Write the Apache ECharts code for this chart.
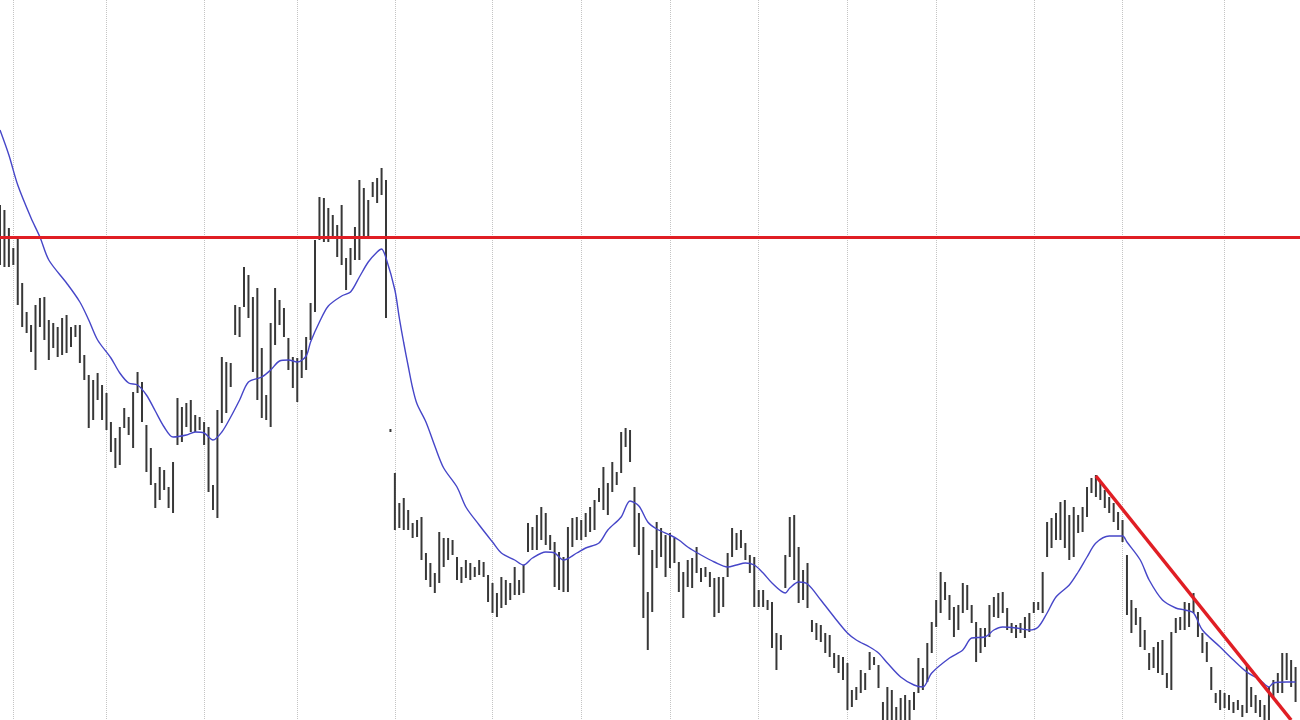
<!DOCTYPE html>
<html>
<head>
<meta charset="utf-8">
<title>Daily bars with moving average</title>
<script src="https://cdn.jsdelivr.net/npm/echarts@6.0.0/dist/echarts.min.js"></script>
<style>
  html, body { margin: 0; padding: 0; background: #fff; }
  #chart { width: 1300px; height: 720px; }
</style>
</head>
<body>
<div id="chart"></div>
<script>
// daily highs / lows, one bar per session
const highs = [
  79.5, 79.0, 77.2, 75.2, 76.2, 71.7, 68.8, 67.5, 69.5, 70.2,
  70.3, 68.0, 67.7, 67.3, 68.2, 68.5, 67.3, 67.5, 67.5, 64.5,
  62.5, 62.0, 62.7, 61.5, 60.7, 57.8, 56.2, 57.3, 59.2, 58.3,
  60.8, 62.8, 61.8, 57.5, 55.2, 51.7, 53.3, 53.0, 51.3, 53.8,
  60.2, 59.3, 59.7, 60.0, 58.5, 58.3, 57.8, 57.3, 51.5, 59.0,
  64.3, 63.8, 63.7, 69.5, 69.3, 73.3, 72.5, 70.3, 71.2, 65.2,
  60.5, 67.7, 71.2, 70.0, 69.2, 66.2, 64.3, 64.2, 65.0, 66.3,
  69.7, 76.0, 80.3, 80.2, 79.2, 78.5, 77.5, 79.5, 74.2, 75.2,
  77.3, 82.0, 81.2, 80.0, 81.8, 82.2, 83.2, 82.0, 57.1, 52.7,
  49.7, 50.2, 49.0, 47.7, 48.0, 48.3, 44.7, 43.7, 42.7, 46.8,
  46.2, 46.2, 46.0, 44.3, 43.3, 44.0, 43.7, 43.3, 44.0, 43.8,
  42.5, 41.7, 40.7, 42.3, 42.0, 41.7, 43.3, 42.0, 43.5, 47.7,
  47.3, 48.5, 49.3, 48.7, 46.5, 45.8, 44.8, 44.3, 47.3, 48.2,
  48.3, 48.0, 48.7, 49.3, 50.0, 51.2, 53.3, 51.7, 53.8, 52.8,
  56.8, 57.2, 57.0, 51.3, 48.7, 47.3, 40.8, 45.0, 47.8, 47.2,
  46.5, 46.7, 46.2, 43.8, 42.8, 44.0, 44.2, 45.3, 43.2, 43.3,
  42.8, 42.2, 42.3, 42.3, 44.7, 47.2, 46.7, 47.0, 45.7, 44.5,
  44.3, 41.0, 41.0, 40.0, 39.8, 36.7, 36.5, 44.5, 48.3, 48.5,
  45.3, 43.0, 43.7, 38.0, 37.7, 37.5, 36.7, 36.5, 34.7, 34.5,
  34.3, 33.7, 31.0, 31.3, 33.0, 32.7, 34.8, 34.3, 33.5, 29.8,
  31.3, 31.0, 29.3, 30.2, 30.5, 30.0, 30.8, 34.2, 33.2, 35.7,
  37.8, 40.0, 42.8, 41.8, 40.5, 39.3, 39.5, 41.7, 41.5, 39.5,
  37.8, 37.2, 37.2, 39.5, 40.3, 40.7, 40.8, 39.2, 37.7, 37.5,
  37.7, 38.3, 38.7, 39.8, 39.8, 42.8, 47.8, 48.2, 48.7, 49.8,
  50.0, 48.5, 49.3, 48.5, 49.3, 51.3, 52.2, 52.5, 51.7, 51.0,
  50.3, 49.7, 48.8, 48.0, 44.5, 40.0, 39.2, 38.3, 37.0, 34.7,
  35.3, 35.8, 36.0, 32.7, 36.8, 38.2, 38.3, 39.8, 39.7, 40.7,
  38.8, 36.7, 35.8, 33.3, 30.7, 31.0, 30.7, 30.5, 29.8, 30.0,
  29.5, 33.5, 31.3, 30.5, 30.0, 29.5, 31.3, 32.0, 32.7, 34.7,
  34.7, 34.0, 33.3
];
const lows = [
  73.5, 73.3, 73.3, 73.5, 69.5, 67.3, 66.7, 64.8, 63.0, 67.3,
  66.0, 64.0, 65.2, 64.3, 64.5, 64.7, 65.3, 66.3, 63.7, 62.0,
  57.2, 58.0, 60.0, 58.0, 57.0, 54.8, 53.2, 53.5, 57.2, 56.5,
  55.2, 60.7, 57.8, 52.8, 51.5, 49.2, 50.0, 51.0, 49.2, 48.7,
  55.5, 55.8, 57.3, 56.8, 56.8, 57.0, 55.5, 50.8, 49.0, 48.2,
  57.7, 58.7, 61.3, 66.5, 66.3, 69.3, 68.2, 62.8, 60.0, 58.2,
  58.0, 57.3, 65.5, 67.5, 66.3, 63.0, 61.2, 59.8, 62.2, 63.0,
  66.0, 68.8, 76.0, 75.8, 75.8, 76.3, 74.3, 73.5, 71.0, 72.5,
  74.0, 74.0, 76.2, 76.3, 80.3, 79.7, 80.5, 68.2, 56.8, 47.0,
  47.2, 47.0, 47.0, 46.2, 46.3, 44.0, 42.0, 41.3, 40.7, 41.7,
  43.3, 44.0, 44.5, 42.0, 41.7, 42.2, 42.0, 42.3, 42.5, 42.3,
  39.8, 38.7, 38.3, 39.2, 39.5, 40.0, 40.5, 40.5, 40.7, 44.8,
  45.0, 45.0, 46.0, 45.5, 45.0, 41.3, 41.0, 40.8, 40.8, 45.3,
  46.0, 46.0, 46.3, 46.8, 47.0, 49.8, 49.0, 48.5, 50.8, 51.5,
  52.7, 55.3, 53.8, 45.3, 44.5, 38.2, 35.0, 38.8, 43.2, 44.3,
  42.3, 43.2, 43.7, 40.8, 38.2, 41.3, 41.2, 42.7, 41.8, 42.3,
  41.3, 38.3, 38.7, 39.3, 42.3, 44.3, 45.0, 45.2, 44.0, 42.7,
  39.3, 39.3, 39.3, 39.0, 35.2, 33.0, 35.0, 41.2, 44.3, 42.0,
  39.7, 40.0, 39.2, 36.8, 36.0, 35.8, 34.7, 34.3, 33.2, 32.7,
  32.0, 29.0, 29.3, 30.0, 30.7, 31.0, 33.0, 33.5, 31.2, 27.2,
  27.2, 27.2, 27.2, 27.2, 27.2, 27.5, 29.0, 30.7, 31.0, 31.8,
  34.7, 37.3, 38.7, 40.0, 38.0, 36.3, 37.0, 38.7, 39.0, 37.7,
  33.8, 34.7, 35.3, 36.3, 38.3, 38.2, 38.7, 37.0, 36.7, 36.2,
  36.7, 36.2, 36.8, 38.7, 39.0, 38.7, 44.3, 45.2, 46.0, 46.0,
  45.2, 44.0, 44.3, 46.7, 46.8, 48.3, 50.7, 50.3, 50.0, 49.2,
  48.7, 47.8, 47.0, 45.8, 38.5, 36.7, 37.5, 35.3, 35.0, 33.0,
  33.2, 32.7, 32.5, 31.2, 31.0, 36.7, 37.0, 37.0, 37.3, 38.7,
  36.3, 34.7, 33.8, 31.0, 29.7, 29.0, 29.2, 29.0, 28.7, 29.0,
  28.3, 28.7, 29.3, 28.7, 28.3, 27.5, 27.5, 30.3, 30.7, 30.7,
  32.0, 31.3, 29.8
];

// moving average, read at these bar positions
const maIdx = [
  0, 2, 4, 7, 9, 11, 15, 18, 20, 22, 25, 27, 29, 31, 33, 35, 37, 39, 42, 44,
  46, 48, 50, 52, 54, 56, 59, 61, 63, 65, 67, 69, 70, 72, 74, 77, 79, 81, 83, 85,
  86, 87, 89, 90, 91, 92, 93, 94, 96, 98, 100, 103, 105, 108, 111, 113, 116, 118, 120, 123,
  125, 127, 130, 132, 135, 137, 140, 142, 144, 146, 148, 151, 153, 155, 158, 161, 164, 166, 168, 170,
  172, 174, 177, 178, 180, 182, 185, 188, 191, 193, 196, 198, 200, 203, 206, 208, 210, 214, 217, 219,
  222, 224, 226, 229, 232, 234, 236, 238, 241, 243, 245, 247, 250, 253, 254, 257, 259, 262, 265, 267,
  269, 271, 275, 278, 281, 284, 286, 287, 290, 292
];
const maVal = [
  87.0, 84.5, 81.5, 78.2, 76.3, 74.0, 71.7, 69.8, 68.0, 66.0, 64.2, 62.7, 61.7, 61.5, 60.5, 58.9, 57.3, 56.3, 56.5, 56.8,
  56.7, 56.0, 56.8, 58.3, 60.0, 61.8, 62.3, 63.0, 63.9, 64.0, 63.8, 64.4, 65.8, 67.8, 69.4, 70.4, 70.8, 72.3, 73.8, 74.8,
  75.1, 74.2, 71.0, 68.2, 65.7, 63.4, 61.2, 59.6, 57.8, 55.4, 53.2, 51.3, 49.3, 47.5, 45.8, 44.7, 44.0, 43.5, 44.2, 44.8,
  44.7, 44.0, 44.7, 45.2, 45.7, 47.0, 48.3, 49.9, 49.4, 47.8, 47.1, 46.5, 46.0, 45.3, 44.5, 43.8, 43.3, 43.5, 43.7, 43.5,
  42.7, 41.7, 40.7, 41.2, 41.8, 41.6, 40.0, 38.3, 36.7, 36.0, 35.3, 34.7, 33.7, 32.3, 31.5, 31.3, 32.7, 34.2, 35.0, 36.2,
  36.3, 37.0, 37.3, 37.2, 37.0, 37.3, 38.7, 40.3, 41.5, 42.8, 44.3, 45.7, 46.4, 46.4, 45.8, 44.0, 42.0, 40.0, 39.2, 39.0,
  38.7, 37.0, 35.3, 34.0, 32.8, 32.0, 31.3, 31.7, 31.8, 31.8
];

// month boundaries (bar index) where the dotted grid lines sit
const monthStarts = [3, 24, 46, 67, 89, 111, 131, 151, 171, 191, 211, 233, 253, 276];

// drawn levels: horizontal resistance and falling trend line
// (both trend ends must stay inside the axis range or ECharts drops the line)
const resistance = 76.3;
const trendFrom = [247, 52.4];
const trendTo = [291, 28.0];

// one spare slot on the right so the last bar is not on the edge
const days = Array.from({ length: highs.length + 1 }, (_, i) => String(i));
const bars = highs.map((h, i) => [i, h, lows[i]]);
const maData = maIdx.map((d, k) => [d, maVal[k]]);

const chart = echarts.init(document.getElementById('chart'));

chart.setOption({
  animation: false,
  backgroundColor: '#fff',
  grid: { left: 0, right: 0, top: 0, bottom: 0 },
  xAxis: {
    type: 'category',
    data: days,
    boundaryGap: false,
    axisLine: { show: false },
    axisTick: { show: false },
    axisLabel: { show: false },
    splitLine: {
      show: true,
      interval: (idx) => monthStarts.includes(idx),
      lineStyle: { color: '#c4c4c4', type: 'dotted', width: 1 }
    }
  },
  yAxis: {
    type: 'value',
    min: 28,
    max: 100,
    axisLine: { show: false },
    axisTick: { show: false },
    axisLabel: { show: false },
    splitLine: { show: false }
  },
  series: [
    {
      type: 'custom',
      name: 'bars',
      data: bars,
      encode: { x: 0, y: [1, 2] },
      renderItem: (params, api) => {
        const i = api.value(0);
        const top = api.coord([i, api.value(1)]);
        const bot = api.coord([i, api.value(2)]);
        return {
          type: 'line',
          shape: { x1: top[0], y1: top[1], x2: bot[0], y2: bot[1] },
          style: { stroke: '#383838', lineWidth: 2 }
        };
      },
      z: 2
    },
    {
      type: 'line',
      name: 'MA',
      data: maData,
      showSymbol: false,
      smooth: 0.3,
      connectNulls: true,
      lineStyle: { color: '#4646c8', width: 1.4 },
      z: 3,
      markLine: {
        silent: true,
        symbol: 'none',
        label: { show: false },
        lineStyle: { color: '#e01e24', width: 3, type: 'solid' },
        data: [
          { yAxis: resistance },
          [{ coord: trendFrom }, { coord: trendTo, lineStyle: { width: 3.5 } }]
        ]
      }
    }
  ]
});
</script>
</body>
</html>
